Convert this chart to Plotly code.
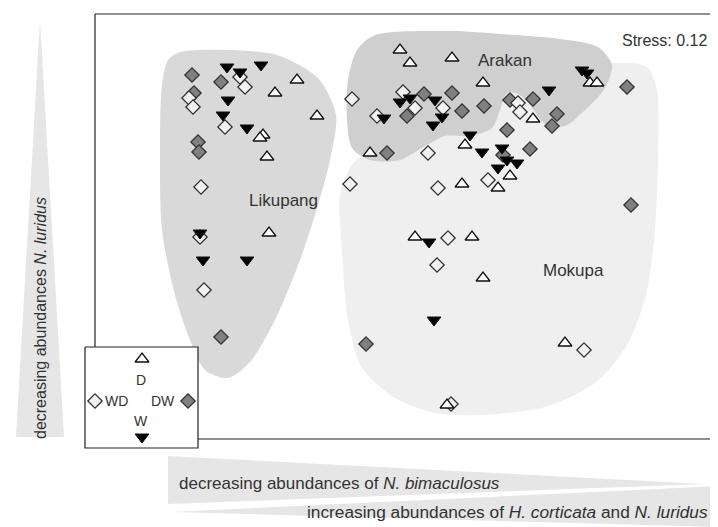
import plotly.graph_objects as go

# NMDS ordination coordinates (plot units), by season group
D_x = [297, 275, 317, 263, 260, 267, 269, 400, 410, 452, 483, 370, 465, 510, 498, 462, 533, 590, 597, 415, 472, 483, 565, 447]
D_y = [80, 93, 116, 135, 138, 157, 233, 50, 63, 58, 83, 153, 145, 176, 188, 184, 119, 83, 83, 237, 237, 278, 343, 405]

W_x = [227, 240, 261, 228, 223, 247, 200, 203, 247, 400, 410, 435, 442, 433, 384, 470, 482, 502, 507, 498, 517, 549, 582, 587, 429, 434]
W_y = [67, 72, 65, 100, 115, 128, 233, 260, 260, 102, 98, 100, 117, 125, 118, 135, 152, 148, 160, 168, 163, 90, 70, 73, 242, 320]

WD_x = [240, 245, 189, 193, 225, 201, 200, 204, 352, 403, 415, 443, 377, 428, 518, 520, 488, 350, 438, 448, 437, 584, 451]
WD_y = [77, 87, 98, 107, 127, 187, 237, 290, 99, 92, 108, 108, 116, 153, 103, 112, 180, 184, 188, 238, 265, 350, 404]

DW_x = [192, 221, 194, 198, 199, 221, 424, 452, 407, 462, 484, 387, 510, 533, 557, 552, 507, 530, 503, 627, 631, 366]
DW_y = [75, 82, 93, 142, 152, 337, 94, 93, 116, 111, 106, 153, 100, 99, 114, 126, 130, 149, 155, 87, 205, 344]

# Site hull outlines
lik_x = [180, 230, 277, 318, 336, 330, 318, 300, 275, 250, 228, 205, 190, 175, 162, 160, 162, 168]
lik_y = [52, 50, 55, 78, 115, 160, 205, 260, 320, 362, 378, 370, 340, 295, 230, 150, 85, 60]
ara_x = [375, 450, 500, 560, 598, 612, 605, 585, 565, 545, 530, 518, 507, 500, 492, 470, 445, 425, 400, 370, 352, 347, 348, 357]
ara_y = [35, 31, 34, 39, 47, 65, 88, 110, 126, 124, 105, 94, 93, 110, 128, 136, 136, 146, 160, 160, 148, 120, 80, 50]
mok_x = [352, 370, 420, 480, 540, 590, 630, 648, 657, 658, 655, 646, 627, 595, 545, 480, 435, 395, 362, 348, 342, 340]
mok_y = [165, 150, 120, 100, 80, 66, 63, 68, 90, 160, 230, 295, 345, 383, 407, 415, 413, 398, 368, 320, 250, 195]

# Legend key
key_types = ["D", "WD", "DW", "W"]
key_x = [142, 95, 188, 142]
key_y = [359, 401, 401, 437]

FONT = "Liberation Sans, Arial, sans-serif"
TXT = "#333333"

styles = {
    "D": dict(symbol="triangle-up", size=12, color="white", line=dict(color="#111", width=1.3)),
    "W": dict(symbol="triangle-down", size=12, color="black", line=dict(color="#111", width=1.0)),
    "WD": dict(symbol="diamond", size=11, color="#f2f2f2", line=dict(color="#333", width=1.3)),
    "DW": dict(symbol="diamond", size=11, color="#808080", line=dict(color="#333", width=1.3)),
}

fig = go.Figure()

def hull(xs, ys, color):
    fig.add_trace(go.Scatter(x=xs + xs[:1], y=ys + ys[:1], mode="lines", fill="toself",
                             fillcolor=color, line=dict(color=color, width=0, shape="spline", smoothing=0.8),
                             hoverinfo="skip", showlegend=False))

hull(mok_x, mok_y, "#efefef")
hull(lik_x, lik_y, "#d9d9d9")
hull(ara_x, ara_y, "#cfcfcf")

for name, xs, ys in [("DW", DW_x, DW_y), ("WD", WD_x, WD_y), ("D", D_x, D_y), ("W", W_x, W_y)]:
    fig.add_trace(go.Scatter(x=xs, y=ys, mode="markers", marker=styles[name], name=name, showlegend=False))

# legend box
fig.add_trace(go.Scatter(x=[85, 198, 198, 85, 85], y=[347, 347, 448, 448, 347], mode="lines", fill="toself",
                         fillcolor="white", line=dict(color="#222", width=1.2), hoverinfo="skip", showlegend=False))
for t, kx, ky in zip(key_types, key_x, key_y):
    fig.add_trace(go.Scatter(x=[kx], y=[ky], mode="markers", marker=styles[t], showlegend=False))

shapes = [
    # gradient wedges
    dict(type="path", path="M 40,20 L 64,437 L 16,437 Z", fillcolor="#e6e6e6", line=dict(width=0), layer="below"),
    dict(type="path", path="M 168,456 L 705,484 L 168,504 Z", fillcolor="#e6e6e6", line=dict(width=0), layer="below"),
    dict(type="path", path="M 172,512 L 718,486 L 718,527 Z", fillcolor="#e6e6e6", line=dict(width=0), layer="below"),
    # frame
    dict(type="line", x0=95, y0=14, x1=718, y1=14, line=dict(color="#222", width=1.2)),
    dict(type="line", x0=95, y0=14, x1=95, y1=347, line=dict(color="#222", width=1.2)),
    dict(type="line", x0=198, y0=439, x1=718, y1=439, line=dict(color="#222", width=1.2)),
]

def ann(x, y, text, size=16, xanchor="center", angle=0):
    return dict(x=x, y=y, text=text, showarrow=False, xanchor=xanchor, yanchor="middle",
                textangle=angle, font=dict(family=FONT, size=size, color=TXT))

annotations = [
    ann(283, 200, "Likupang", size=17),
    ann(505, 60, "Arakan", size=17),
    ann(573, 270, "Mokupa", size=17),
    ann(709, 40, "Stress: 0.12", size=16, xanchor="right"),
    ann(141, 380, "D", size=14),
    ann(116, 401, "WD", size=14),
    ann(163, 401, "DW", size=14),
    ann(141, 421, "W", size=14),
    ann(177, 483, "decreasing abundances of <i>N. bimaculosus</i>", size=17, xanchor="left"),
    ann(710, 512, "increasing abundances of <i>H. corticata</i> and <i>N. luridus</i>", size=17.3, xanchor="right"),
    ann(40, 318, "decreasing abundances <i>N. luridus</i>", size=16, angle=-90),
]

# page body has an 8px margin: size the figure so plot units line up with the window
fig.update_layout(
    width=710, height=519, margin=dict(l=0, r=0, t=0, b=0),
    paper_bgcolor="white", plot_bgcolor="white",
    xaxis=dict(range=[8, 718], visible=False, fixedrange=True),
    yaxis=dict(range=[527, 8], visible=False, fixedrange=True),
    shapes=shapes, annotations=annotations, showlegend=False,
)

fig.write_html("out.html")
